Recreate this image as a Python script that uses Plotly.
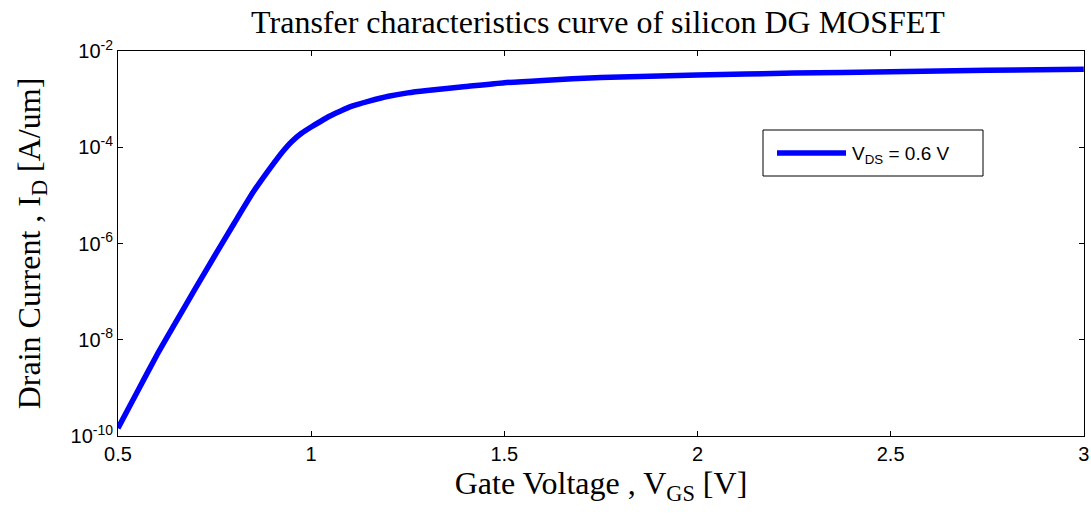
import plotly.graph_objects as go

vgs = [0.50, 0.55, 0.60, 0.65, 0.70, 0.75, 0.80, 0.85, 0.90, 0.925, 0.95, 0.975,
       1.00, 1.025, 1.05, 1.075, 1.10, 1.15, 1.20, 1.25, 1.30, 1.40, 1.50, 1.60,
       1.75, 2.00, 2.25, 2.50, 2.75, 3.00]
id_current = [1.45e-10, 8.3e-10, 4.7e-9, 2.34e-8, 1.15e-7, 5.5e-7, 2.57e-6, 1.17e-5,
              4.3e-5, 7.9e-5, 1.32e-4, 1.95e-4, 2.63e-4, 3.47e-4, 4.5e-4, 5.6e-4,
              6.9e-4, 9.1e-4, 1.15e-3, 1.35e-3, 1.51e-3, 1.82e-3, 2.19e-3, 2.45e-3,
              2.82e-3, 3.16e-3, 3.47e-3, 3.72e-3, 3.98e-3, 4.17e-3]

x_ticks = [0.5, 1, 1.5, 2, 2.5, 3]
x_ticktext = ["0.5", "1", "1.5", "2", "2.5", "3"]
y_ticks = [1e-10, 1e-8, 1e-6, 1e-4, 1e-2]
y_ticktext = ["10<sup>-10</sup>", "10<sup>-8</sup>", "10<sup>-6</sup>", "10<sup>-4</sup>", "10<sup>-2</sup>"]
legend_label = "V<sub>DS</sub> = 0.6 V"

serif = "Liberation Serif, Times New Roman, serif"
sans = "Liberation Sans, Arial, sans-serif"

fig = go.Figure()
fig.add_trace(go.Scatter(
    x=vgs, y=id_current, mode="lines",
    line=dict(color="#0000FF", width=5.5, shape="spline", smoothing=0.5),
    name=legend_label, showlegend=False,
))

# Plot area in pixels: x 118..1084, y 51..436
W, H = 1091, 519
L, R, T, B = 118, 1084, 51, 436
def px(x):
    return (x - L) / (R - L)
def py(y):
    return (B - y) / (B - T)

# MATLAB-style legend box
fig.add_shape(type="rect", xref="paper", yref="paper",
              x0=px(763), x1=px(983), y0=py(176), y1=py(130),
              line=dict(color="black", width=1), fillcolor="white", layer="above")
fig.add_shape(type="line", xref="paper", yref="paper",
              x0=px(777), x1=px(846), y0=py(153), y1=py(153),
              line=dict(color="#0000FF", width=5.5), layer="above")
fig.add_annotation(xref="paper", yref="paper", x=px(850), y=py(155),
                   xanchor="left", yanchor="middle", showarrow=False,
                   text=legend_label, font=dict(family=sans, size=19, color="black"))

fig.update_layout(
    width=W, height=H,
    margin=dict(l=L, r=W - R, t=T, b=H - B),
    paper_bgcolor="white", plot_bgcolor="white",
    title=dict(text="Transfer characteristics curve of silicon DG MOSFET",
               x=598 / W, xanchor="center", y=1 - 22 / H, yanchor="middle",
               font=dict(family=serif, size=32, color="black")),
    showlegend=False,
)
fig.update_xaxes(
    range=[0.5, 3.0005], tickvals=x_ticks, ticktext=x_ticktext, automargin=False,
    showline=True, linecolor="black", linewidth=1, mirror="allticks",
    ticks="inside", ticklen=5, tickcolor="black", showgrid=False, zeroline=False,
    tickfont=dict(family=sans, size=20, color="black"),
    title=dict(text="Gate Voltage , V<sub>GS</sub> [V]", standoff=4,
               font=dict(family=serif, size=32, color="black")),
)
fig.update_yaxes(
    type="log", range=[-10, -2], tickvals=y_ticks, ticktext=y_ticktext, automargin=False,
    showline=True, linecolor="black", linewidth=1, mirror="allticks",
    ticks="inside", ticklen=5, tickcolor="black", showgrid=False, zeroline=False,
    tickfont=dict(family=sans, size=20, color="black"),
    title=dict(text="Drain Current , I<sub>D</sub> [A/um]", standoff=20,
               font=dict(family=serif, size=32, color="black")),
)

fig.write_html("out.html", config={"displayModeBar": False},
               post_script="document.body.style.margin='0';document.body.style.overflow='hidden';")
